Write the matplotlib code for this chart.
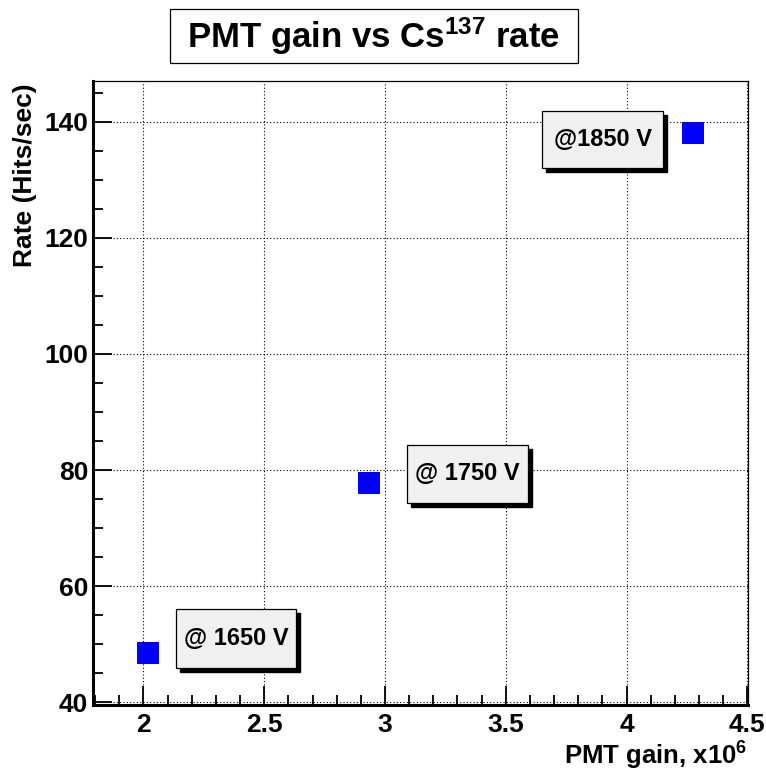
import matplotlib
matplotlib.use('Agg')
import matplotlib.pyplot as plt
from matplotlib.patches import Rectangle
from matplotlib.ticker import MultipleLocator

# Datos
gain = [2.017, 2.935, 4.275]          # x10^6
rate = [48.5, 77.7, 138.1]            # Hits/sec
etiquetas = ['@ 1650 V', '@ 1750 V', '@1850 V']
# cajas de las etiquetas (fraccion de ejes): x0, y0, x1, y1
cajas = [(0.127, 0.059, 0.310, 0.154),
         (0.480, 0.324, 0.665, 0.417),
         (0.686, 0.860, 0.871, 0.952)]

plt.rcParams['font.family'] = ['Liberation Sans', 'DejaVu Sans']
plt.rcParams['font.weight'] = 'bold'
plt.rcParams['mathtext.fontset'] = 'custom'
plt.rcParams['mathtext.rm'] = 'Liberation Sans:bold'
plt.rcParams['mathtext.bf'] = 'Liberation Sans:bold'
plt.rcParams['mathtext.it'] = 'Liberation Sans:bold'

fig = plt.figure(figsize=(7.66, 7.74), dpi=100)
ax = fig.add_axes([0.1214, 0.0891, 0.8545, 0.8066])

ax.plot(gain, rate, linestyle='none', marker='s', markersize=15.5,
        color='#0000ff', markeredgewidth=0, zorder=3)

# rango al estilo ROOT (10% de margen)
dx = max(gain) - min(gain)
dy = max(rate) - min(rate)
ax.set_xlim(min(gain) - 0.1 * dx, max(gain) + 0.1 * dx)
ax.set_ylim(min(rate) - 0.1 * dy, max(rate) + 0.1 * dy)

ax.xaxis.set_major_locator(MultipleLocator(0.5))
ax.xaxis.set_minor_locator(MultipleLocator(0.1))
ax.yaxis.set_major_locator(MultipleLocator(20))
ax.yaxis.set_minor_locator(MultipleLocator(5))
ax.xaxis.set_major_formatter(plt.FuncFormatter(lambda v, p: f'{v:g}'))

ax.tick_params(which='both', direction='in', top=False, right=False,
               labelsize=19, width=1.3)
ax.tick_params(which='major', length=14)
ax.tick_params(which='minor', length=7)
ax.tick_params(axis='x', pad=6)
ax.tick_params(axis='y', pad=3.5)
ax.grid(True, which='major', color='black', linestyle=(0, (1, 2)), linewidth=0.8)
ax.set_axisbelow(True)

for s in ['left', 'bottom']:
    ax.spines[s].set_linewidth(2.2)
for s in ['top', 'right']:
    ax.spines[s].set_linewidth(0.9)

ax.set_ylabel('Rate (Hits/sec)', fontsize=19, fontweight='bold', ha='right')
ax.yaxis.set_label_coords(-0.086, 0.995)
ax.set_xlabel(r'PMT gain, x10$^{6}$', fontsize=18.5, fontweight='bold',
              ha='right', va='baseline')
ax.xaxis.set_label_coords(1.0, -0.095)

# etiquetas de voltaje con sombra
for (x0, y0, x1, y1), txt in zip(cajas, etiquetas):
    sh = 0.006
    ax.add_patch(Rectangle((x0 + sh, y0 - sh * 1.05), x1 - x0, y1 - y0,
                           transform=ax.transAxes, facecolor='black',
                           edgecolor='black', zorder=5))
    ax.add_patch(Rectangle((x0, y0), x1 - x0, y1 - y0, transform=ax.transAxes,
                           facecolor='#f0f0f0', edgecolor='black', linewidth=0.9,
                           zorder=6))
    ax.text((x0 + x1) / 2, (y0 + y1) / 2, txt, transform=ax.transAxes,
            ha='center', va='center', fontsize=17, fontweight='bold', zorder=7)

# titulo en caja
fig.patches.append(Rectangle((0.2219, 0.9186), 0.5327, 0.0698,
                             transform=fig.transFigure, facecolor='white',
                             edgecolor='black', linewidth=0.9))
fig.text(0.488, 0.9535, r'PMT gain vs Cs$^{137}$ rate', ha='center', va='center',
         fontsize=25, fontweight='bold')

fig.savefig('out.png', dpi=100)
